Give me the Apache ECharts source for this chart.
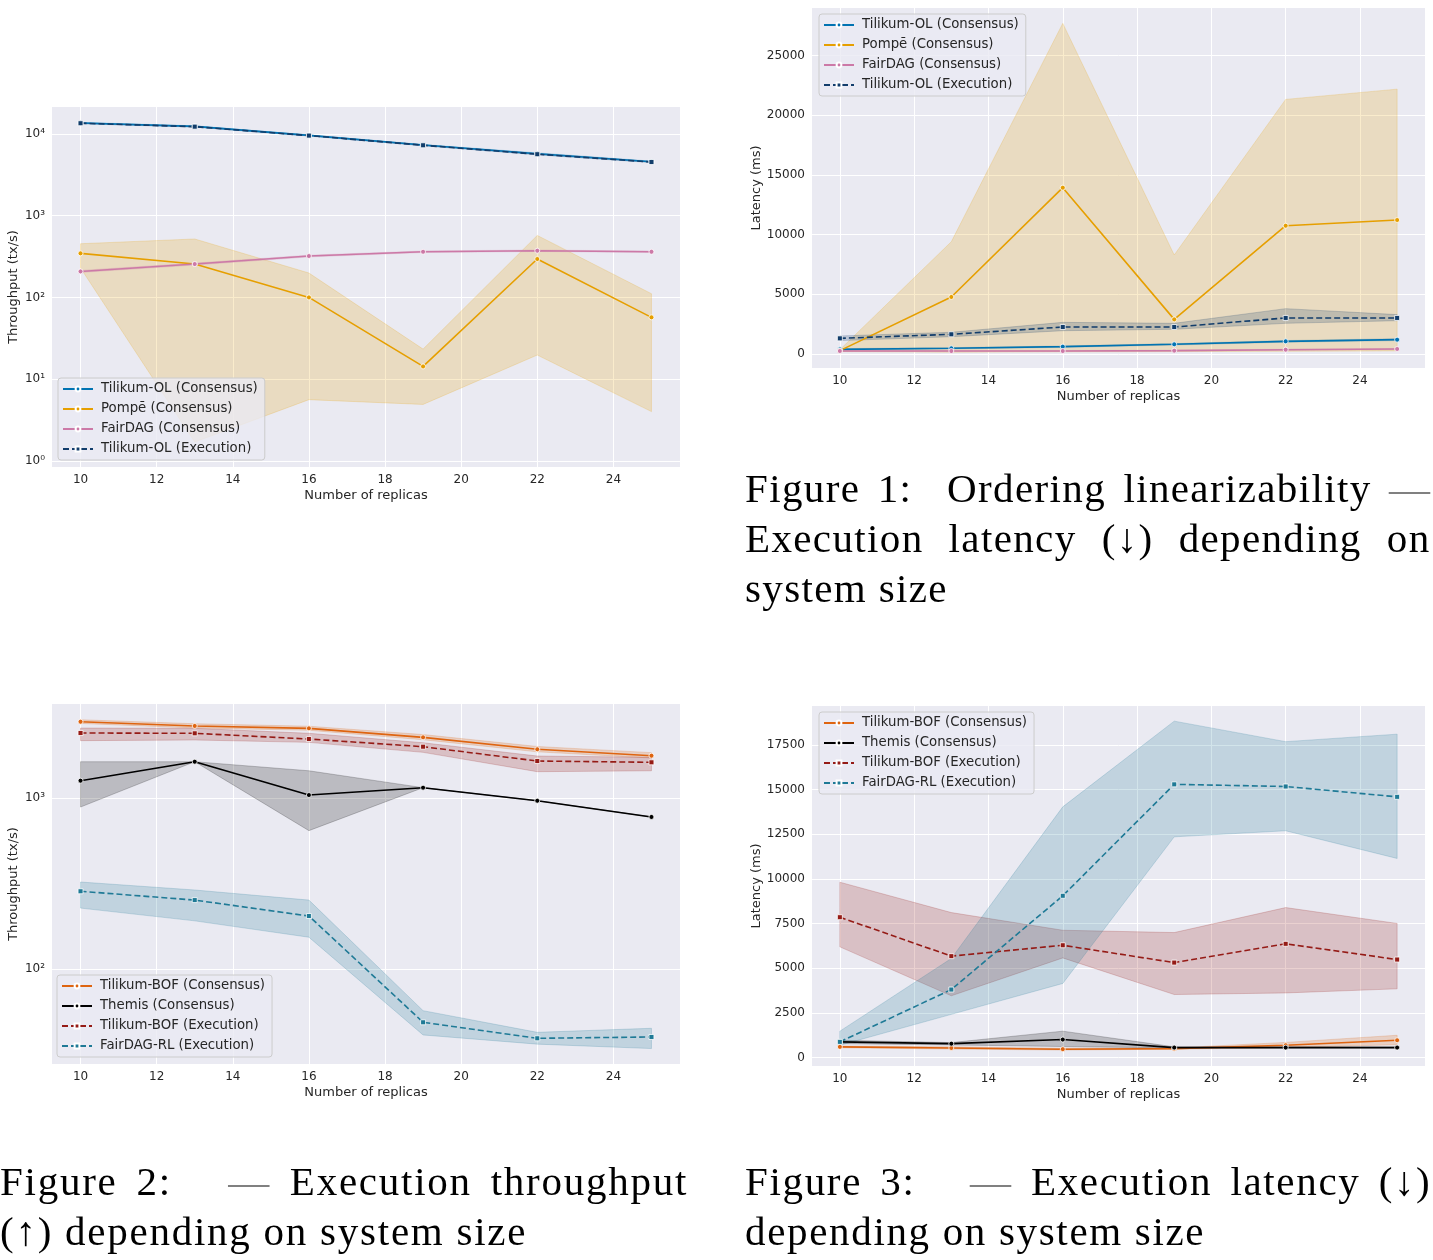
<!DOCTYPE html>
<html>
<head>
<meta charset="utf-8">
<script src="https://cdn.jsdelivr.net/npm/echarts@6/dist/echarts.min.js"></script>
<style>
  html, body { margin: 0; padding: 0; background: #fff; }
  #chart { position: absolute; left: 0; top: 0; width: 1433px; height: 1260px; }
  .cap {
    position: absolute;
    font-family: "Liberation Serif", "Times New Roman", "DejaVu Serif Condensed", "DejaVu Serif", serif;
    font-size: 41px;
    line-height: 50px;
    color: #000;
  }
  .cap .ln { white-space: nowrap; }
  .cap .t { display: inline-block; white-space: nowrap; }
  .cap .dash { color: #808080; }
  .cap .bl { display: inline-block; width: 0; height: 0; }
</style>
</head>
<body>
<div id="chart"></div>

<div class="cap" data-base="502" style="left:745px;top:463px;width:686px">
  <div class="ln j"><span class="bl"></span><span class="t">Figure 1:&nbsp; Ordering linearizability <span class="dash">—</span></span></div>
  <div class="ln j"><span class="t">Execution latency (↓) depending on</span></div>
  <div class="ln"><span class="t" data-target="203">system size</span></div>
</div>
<div class="cap" data-base="1195" style="left:0px;top:1157px;width:688px">
  <div class="ln j"><span class="bl"></span><span class="t">Figure 2: &nbsp; <span class="dash">—</span> Execution throughput</span></div>
  <div class="ln"><span class="t" data-target="527">(↑) depending on system size</span></div>
</div>
<div class="cap" data-base="1195" style="left:745px;top:1157px;width:686px">
  <div class="ln j"><span class="bl"></span><span class="t">Figure 3: &nbsp; <span class="dash">—</span> Execution latency (↓)</span></div>
  <div class="ln"><span class="t" data-target="460">depending on system size</span></div>
</div>

<script>
  // number of replicas
  var replicas = [10, 13, 16, 19, 22, 25]
  var xTicks = [10, 12, 14, 16, 18, 20, 22, 24]

  // ordering linearizability - throughput (tx/s)
  var olThrTilikumCons = [13650, 12400, 9620, 7330, 5740, 4580]
  var olThrTilikumConsLo = [13400, 12200, 9480, 7220, 5600, 4500]
  var olThrTilikumConsHi = [13900, 12600, 9760, 7440, 5880, 4660]
  var olThrPompe = [346, 256, 100, 14.3, 295, 57]
  var olThrPompeLo = [229, 1.7, 5.6, 4.9, 19.7, 4.0]
  var olThrPompeHi = [454, 519, 199, 23.3, 574, 111]
  var olThrFairdag = [208, 256, 321, 362, 373, 362]
  var olThrFairdagLo = [202, 249, 313, 354, 365, 355]
  var olThrFairdagHi = [214, 263, 329, 370, 381, 369]
  var olThrTilikumExec = [13550, 12300, 9560, 7280, 5660, 4540]
  var olThrTilikumExecLo = [13350, 12150, 9440, 7180, 5560, 4470]
  var olThrTilikumExecHi = [13750, 12450, 9680, 7380, 5760, 4610]

  // ordering linearizability - latency (ms)
  var olLatTilikumCons = [390, 475, 615, 810, 1060, 1200]
  var olLatTilikumConsLo = [330, 420, 560, 750, 990, 1120]
  var olLatTilikumConsHi = [450, 530, 670, 870, 1130, 1280]
  var olLatPompe = [280, 4780, 13940, 2900, 10750, 11230]
  var olLatPompeLo = [200, 150, 180, 200, 230, 260]
  var olLatPompeHi = [360, 9410, 27710, 8300, 21340, 22200]
  var olLatFairdag = [250, 250, 250, 280, 360, 420]
  var olLatFairdagLo = [210, 210, 210, 240, 320, 380]
  var olLatFairdagHi = [290, 290, 290, 320, 400, 460]
  var olLatTilikumExec = [1310, 1650, 2260, 2260, 3020, 3020]
  var olLatTilikumExecLo = [1120, 1450, 1950, 2070, 2570, 2790]
  var olLatTilikumExecHi = [1510, 1820, 2650, 2570, 3800, 3300]

  // batch order fairness - throughput (tx/s)
  var bofThrTilikumCons = [2805, 2650, 2566, 2273, 1935, 1775]
  var bofThrTilikumConsLo = [2740, 2580, 2500, 2200, 1870, 1720]
  var bofThrTilikumConsHi = [2880, 2730, 2640, 2360, 2010, 1850]
  var bofThrThemis = [1268, 1637, 1045, 1154, 968, 778]
  var bofThrThemisLo = [889, 1637, 647, 1154, 968, 778]
  var bofThrThemisHi = [1637, 1637, 1449, 1154, 968, 778]
  var bofThrTilikumExec = [2410, 2400, 2222, 2004, 1652, 1624]
  var bofThrTilikumExecLo = [2174, 2193, 2124, 1857, 1431, 1449]
  var bofThrTilikumExecHi = [2576, 2566, 2400, 2113, 1767, 1737]
  var bofThrFairdagRl = [286, 254, 205, 49, 39.5, 40.2]
  var bofThrFairdagRlLo = [228, 192, 154, 41.3, 36.5, 34.4]
  var bofThrFairdagRlHi = [324, 291, 254, 57.3, 42.8, 45.2]

  // batch order fairness - latency (ms)
  var bofLatTilikumCons = [600, 540, 470, 500, 690, 970]
  var bofLatTilikumConsLo = [550, 480, 420, 470, 560, 720]
  var bofLatTilikumConsHi = [650, 600, 520, 540, 850, 1250]
  var bofLatThemis = [880, 780, 1010, 560, 560, 560]
  var bofLatThemisLo = [780, 710, 620, 540, 540, 540]
  var bofLatThemisHi = [970, 840, 1480, 600, 600, 600]
  var bofLatTilikumExec = [7860, 5680, 6290, 5320, 6370, 5490]
  var bofLatTilikumExecLo = [6200, 3460, 5580, 3530, 3620, 3850]
  var bofLatTilikumExecHi = [9820, 8120, 7130, 7000, 8400, 7510]
  var bofLatFairdagRl = [880, 3810, 9060, 15300, 15180, 14600]
  var bofLatFairdagRlLo = [690, 2420, 4150, 12360, 12700, 11150]
  var bofLatFairdagRlHi = [1480, 5550, 14040, 18840, 17690, 18110]

  var olLatTicks = [0, 5000, 10000, 15000, 20000, 25000]
  var bofLatTicks = [0, 2500, 5000, 7500, 10000, 12500, 15000, 17500]

  var olNames = ['Tilikum-OL (Consensus)', 'Pompē (Consensus)', 'FairDAG (Consensus)', 'Tilikum-OL (Execution)']
  var bofNames = ['Tilikum-BOF (Consensus)', 'Themis (Consensus)', 'Tilikum-BOF (Execution)', 'FairDAG-RL (Execution)']

  var C = {
    tilikumOl: '#0173b2',
    pompe: '#e69f00',
    fairdag: '#cc79a7',
    tilikumOlExec: '#123d6b',
    tilikumBof: '#de6410',
    themis: '#000000',
    tilikumBofExec: '#951b16',
    fairdagRl: '#1f7a96'
  }

  var FONT = 'DejaVu Sans'
  var TXT = '#262626'
  var SUP = ['⁰', '¹', '²', '³', '⁴', '⁵']

  function line(name, vals, color, dashed, idx) {
    return {
      name: name,
      type: 'line',
      xAxisIndex: idx,
      yAxisIndex: idx,
      z: 3,
      data: replicas.map(function(x, i) { return [x, vals[i]] }),
      symbol: dashed ? 'rect' : 'circle',
      symbolSize: 5,
      showSymbol: true,
      lineStyle: { color: color, width: 1.6, type: dashed ? [6, 3] : 'solid' },
      itemStyle: { color: color, borderColor: '#ffffff', borderWidth: 0.8 },
      emphasis: { disabled: true },
      animation: false
    }
  }

  // confidence band drawn as one polygon through the axes' own scales
  function band(lo, hi, color, idx) {
    return {
      type: 'custom',
      xAxisIndex: idx,
      yAxisIndex: idx,
      z: 1,
      silent: true,
      animation: false,
      data: replicas.map(function(x, i) { return [x, lo[i], hi[i]] }),
      encode: { x: 0, y: [1, 2] },
      renderItem: function(params, api) {
        if (params.dataIndex !== 0) {
          return
        }
        var top = replicas.map(function(x, i) { return api.coord([x, hi[i]]) })
        var bot = replicas.map(function(x, i) { return api.coord([x, lo[i]]) }).reverse()
        return {
          type: 'polygon',
          shape: { points: top.concat(bot) },
          style: { fill: color, stroke: color, lineWidth: 1, opacity: 0.2 }
        }
      }
    }
  }

  function xAxis(idx) {
    return {
      type: 'value',
      gridIndex: idx,
      min: 9.25,
      max: 25.75,
      axisLine: { show: false },
      axisTick: { show: false, customValues: xTicks },
      axisLabel: { customValues: xTicks, fontFamily: FONT, fontSize: 12, color: TXT, margin: 7 },
      splitLine: { show: true, lineStyle: { color: '#ffffff', width: 1 } },
      name: 'Number of replicas',
      nameLocation: 'middle',
      nameGap: 22,
      nameTextStyle: { fontFamily: FONT, fontSize: 13, color: TXT }
    }
  }

  function logAxis(idx, min, max, name) {
    return {
      type: 'log',
      logBase: 10,
      gridIndex: idx,
      min: min,
      max: max,
      axisLine: { show: false },
      axisTick: { show: false },
      axisLabel: {
        showMinLabel: false,
        showMaxLabel: false,
        fontFamily: FONT, fontSize: 12, color: TXT, margin: 7,
        formatter: function(v) { return '10' + SUP[Math.round(Math.log10(v))] }
      },
      splitLine: { show: true, showMinLine: false, showMaxLine: false, lineStyle: { color: '#ffffff', width: 1 } },
      minorTick: { show: false },
      minorSplitLine: { show: false },
      name: name,
      nameLocation: 'middle',
      nameGap: 32,
      nameTextStyle: { fontFamily: FONT, fontSize: 13, color: TXT }
    }
  }

  function linAxis(idx, min, max, ticks, name) {
    return {
      type: 'value',
      gridIndex: idx,
      min: min,
      max: max,
      axisLine: { show: false },
      axisTick: { show: false, customValues: ticks },
      axisLabel: {
        customValues: ticks, fontFamily: FONT, fontSize: 12, color: TXT, margin: 7,
        formatter: function(v) { return String(v) }
      },
      splitLine: { show: true, lineStyle: { color: '#ffffff', width: 1 } },
      name: name,
      nameLocation: 'middle',
      nameGap: 47,
      nameTextStyle: { fontFamily: FONT, fontSize: 13, color: TXT }
    }
  }

  function legend(left, top, names) {
    return {
      orient: 'vertical',
      left: left,
      top: top,
      data: names,
      selectedMode: false,
      itemWidth: 30,
      itemHeight: 6,
      itemGap: 0,
      padding: [1, 7, 1, 4],
      backgroundColor: 'rgba(234,234,242,0.8)',
      borderColor: '#cccccc',
      borderWidth: 1,
      borderRadius: 3,
      textStyle: { fontFamily: FONT, fontSize: 13.3, color: TXT, lineHeight: 20, padding: [0, 0, 0, 3] }
    }
  }

  var gridStyle = { show: true, backgroundColor: '#eaeaf2', borderWidth: 0, containLabel: false }

  var chart = echarts.init(document.getElementById('chart'), null, { renderer: 'canvas' })

  chart.setOption({
    animation: false,
    grid: [
      Object.assign({ left: 52, top: 107, width: 628, height: 360 }, gridStyle),
      Object.assign({ left: 812, top: 8, width: 613, height: 360 }, gridStyle),
      Object.assign({ left: 52, top: 704, width: 628, height: 360 }, gridStyle),
      Object.assign({ left: 812, top: 706, width: 613, height: 360 }, gridStyle)
    ],
    xAxis: [xAxis(0), xAxis(1), xAxis(2), xAxis(3)],
    yAxis: [
      logAxis(0, 0.84, 21410, 'Throughput (tx/s)'),
      linAxis(1, -1175, 29000, olLatTicks, 'Latency (ms)'),
      logAxis(2, 27.94, 3561, 'Throughput (tx/s)'),
      linAxis(3, -471, 19687, bofLatTicks, 'Latency (ms)')
    ],
    legend: [
      legend(58, 378, olNames),
      legend(819, 14, olNames),
      legend(57, 975, bofNames),
      legend(819, 712, bofNames)
    ],
    series: [
      // ordering linearizability throughput
      band(olThrTilikumConsLo, olThrTilikumConsHi, C.tilikumOl, 0),
      line(olNames[0], olThrTilikumCons, C.tilikumOl, false, 0),
      band(olThrPompeLo, olThrPompeHi, C.pompe, 0),
      line(olNames[1], olThrPompe, C.pompe, false, 0),
      band(olThrFairdagLo, olThrFairdagHi, C.fairdag, 0),
      line(olNames[2], olThrFairdag, C.fairdag, false, 0),
      band(olThrTilikumExecLo, olThrTilikumExecHi, C.tilikumOlExec, 0),
      line(olNames[3], olThrTilikumExec, C.tilikumOlExec, true, 0),

      // ordering linearizability latency
      band(olLatTilikumConsLo, olLatTilikumConsHi, C.tilikumOl, 1),
      line(olNames[0], olLatTilikumCons, C.tilikumOl, false, 1),
      band(olLatPompeLo, olLatPompeHi, C.pompe, 1),
      line(olNames[1], olLatPompe, C.pompe, false, 1),
      band(olLatFairdagLo, olLatFairdagHi, C.fairdag, 1),
      line(olNames[2], olLatFairdag, C.fairdag, false, 1),
      band(olLatTilikumExecLo, olLatTilikumExecHi, C.tilikumOlExec, 1),
      line(olNames[3], olLatTilikumExec, C.tilikumOlExec, true, 1),

      // batch order fairness throughput
      band(bofThrTilikumConsLo, bofThrTilikumConsHi, C.tilikumBof, 2),
      line(bofNames[0], bofThrTilikumCons, C.tilikumBof, false, 2),
      band(bofThrThemisLo, bofThrThemisHi, C.themis, 2),
      line(bofNames[1], bofThrThemis, C.themis, false, 2),
      band(bofThrTilikumExecLo, bofThrTilikumExecHi, C.tilikumBofExec, 2),
      line(bofNames[2], bofThrTilikumExec, C.tilikumBofExec, true, 2),
      band(bofThrFairdagRlLo, bofThrFairdagRlHi, C.fairdagRl, 2),
      line(bofNames[3], bofThrFairdagRl, C.fairdagRl, true, 2),

      // batch order fairness latency
      band(bofLatTilikumConsLo, bofLatTilikumConsHi, C.tilikumBof, 3),
      line(bofNames[0], bofLatTilikumCons, C.tilikumBof, false, 3),
      band(bofLatThemisLo, bofLatThemisHi, C.themis, 3),
      line(bofNames[1], bofLatThemis, C.themis, false, 3),
      band(bofLatTilikumExecLo, bofLatTilikumExecHi, C.tilikumBofExec, 3),
      line(bofNames[2], bofLatTilikumExec, C.tilikumBofExec, true, 3),
      band(bofLatFairdagRlLo, bofLatFairdagRlHi, C.fairdagRl, 3),
      line(bofNames[3], bofLatFairdagRl, C.fairdagRl, true, 3)
    ]
  })

  // LaTeX-like captions: letter spacing from the last line's width,
  // justified lines filled with word spacing, first baseline aligned
  function fitCaptions() {
    document.querySelectorAll('.cap').forEach(function(cap) {
      var last = cap.querySelector('.t[data-target]')
      var target = parseFloat(last.getAttribute('data-target'))
      var ls = (target - last.offsetWidth) / last.textContent.length
      cap.style.letterSpacing = ls + 'px'
      var width = parseFloat(cap.style.width)
      cap.querySelectorAll('.j .t').forEach(function(t) {
        var spaces = (t.textContent.match(/[ \u00a0]/g) || []).length
        t.style.wordSpacing = ((width - t.offsetWidth) / spaces) + 'px'
      })
      var marker = cap.querySelector('.bl')
      var base = marker.getBoundingClientRect().bottom
      var want = parseFloat(cap.getAttribute('data-base'))
      cap.style.top = (parseFloat(cap.style.top) + want - base) + 'px'
    })
  }
  fitCaptions()
</script>
</body>
</html>
